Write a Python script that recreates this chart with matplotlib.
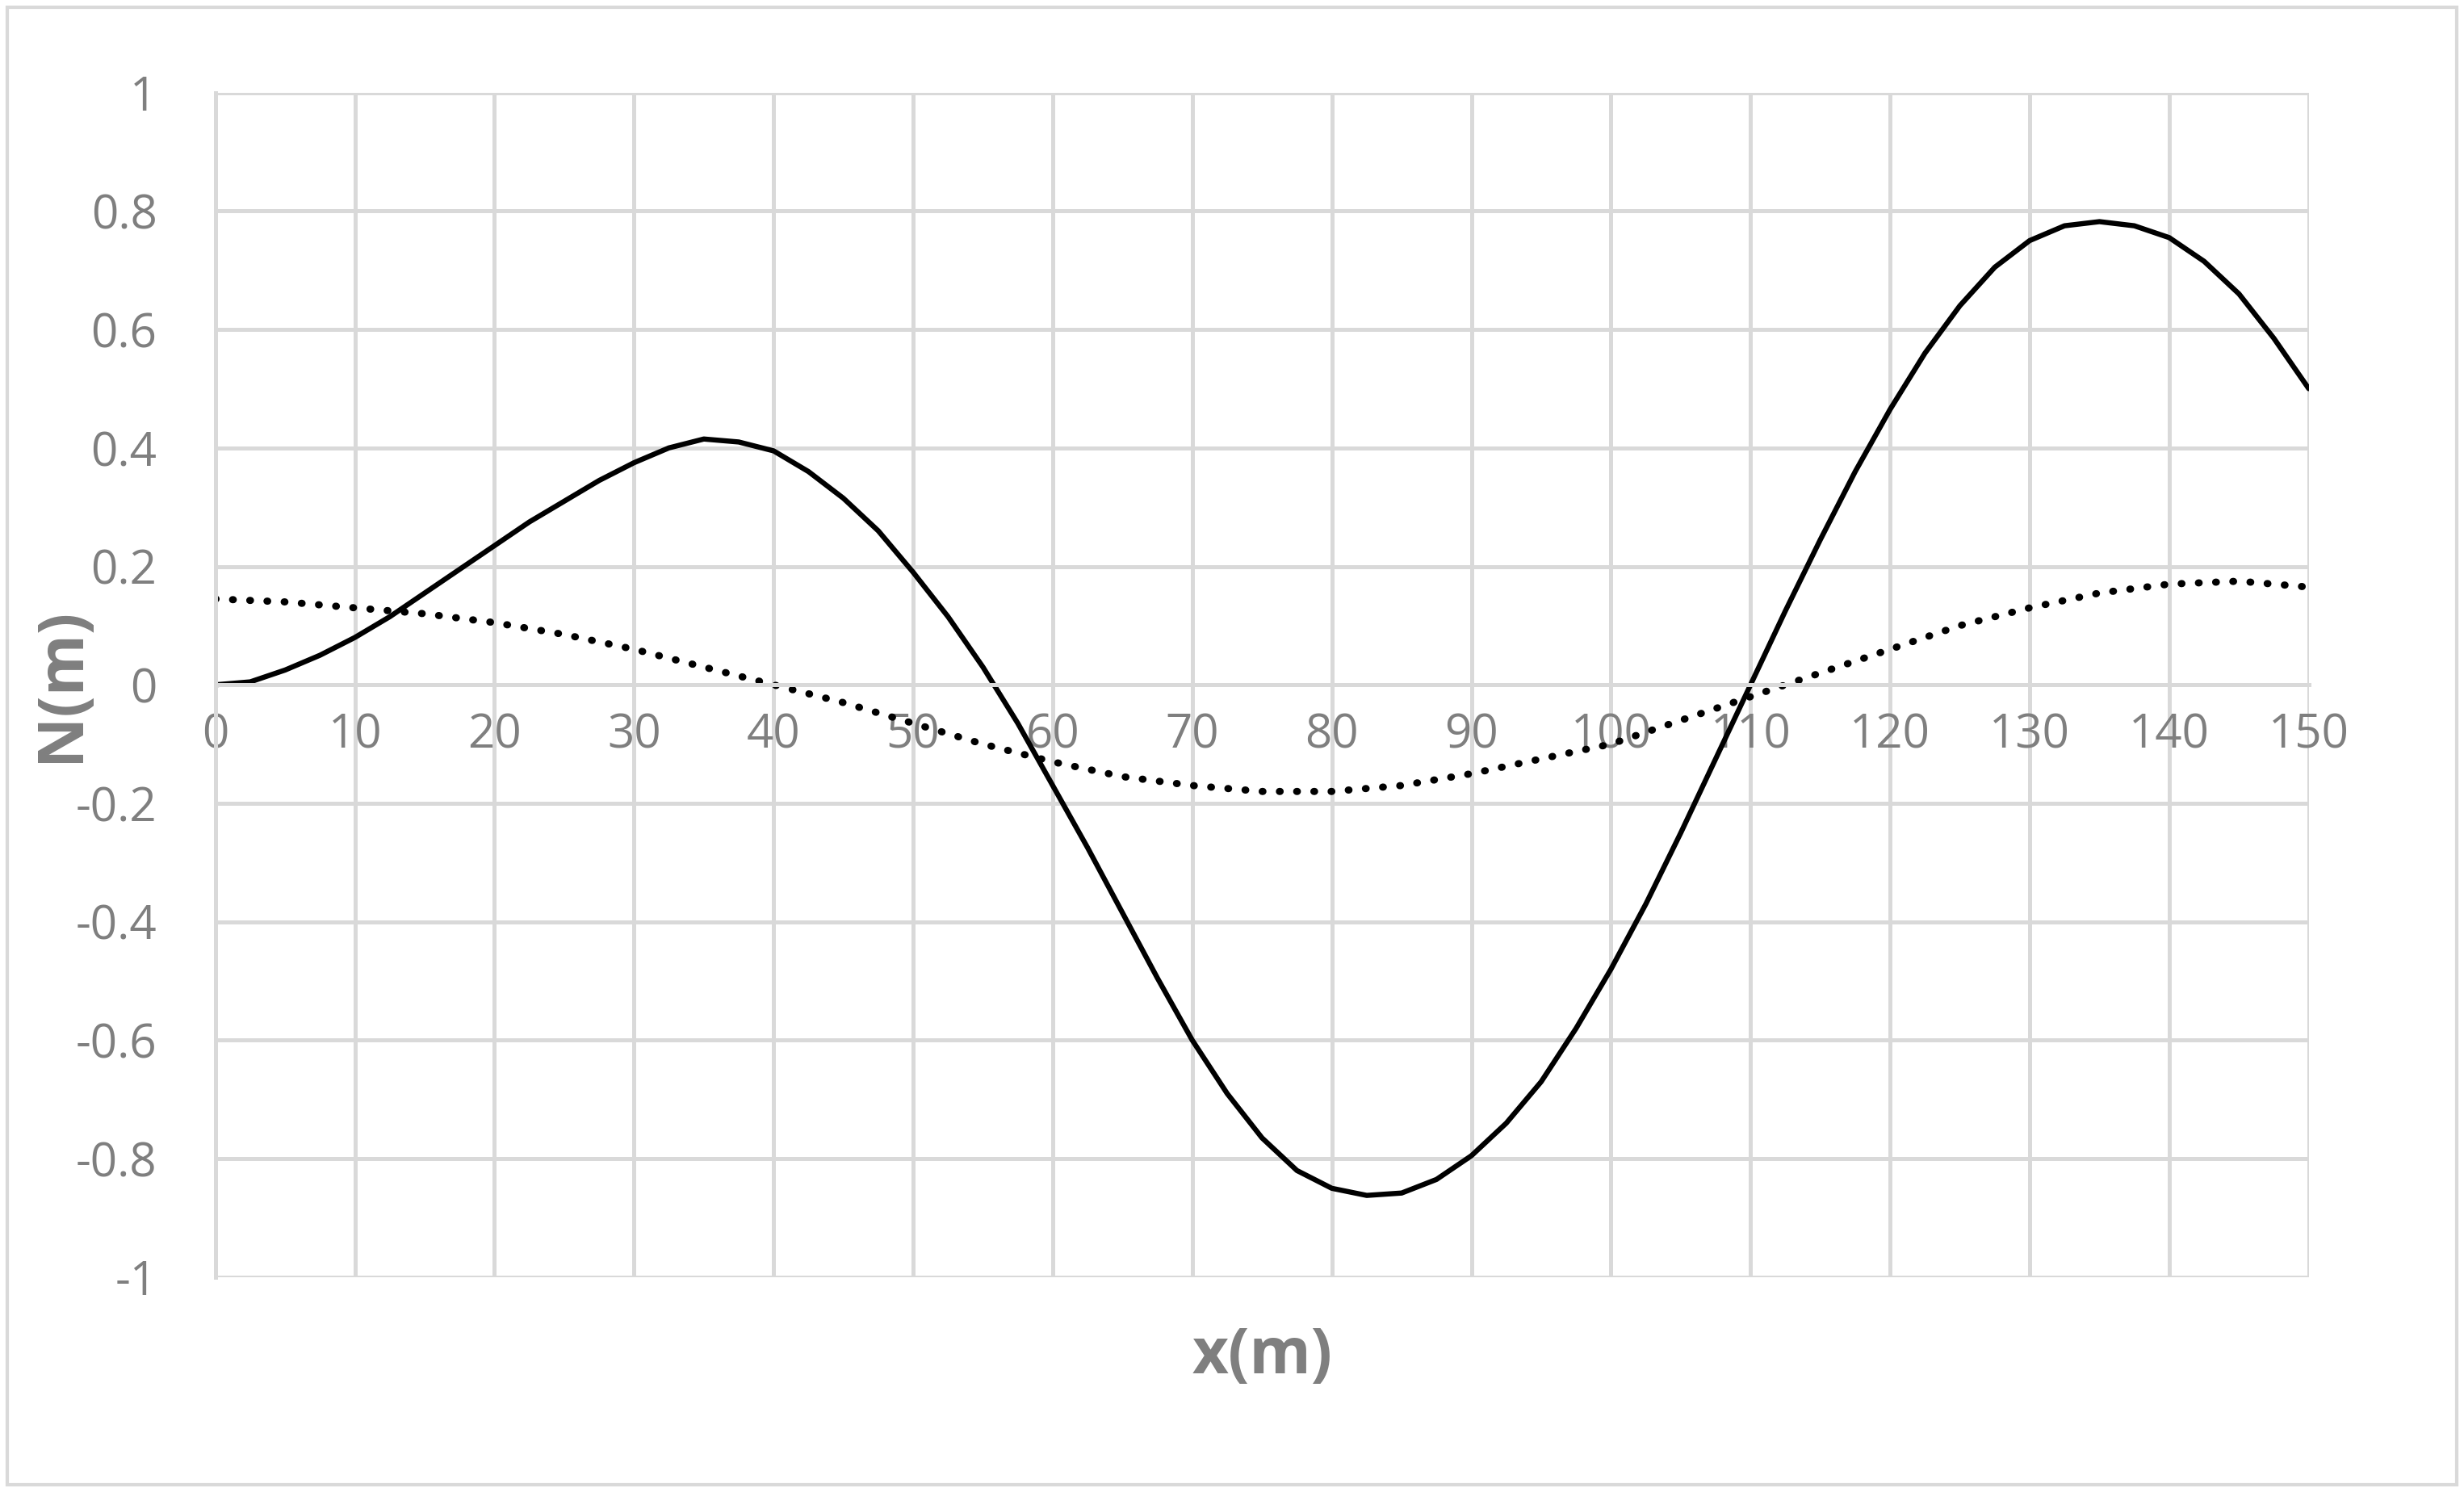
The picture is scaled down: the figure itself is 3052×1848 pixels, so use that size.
import matplotlib.pyplot as plt
from matplotlib.patches import Rectangle

x_solid = [0, 2.5, 5, 7.5, 10, 12.5, 15, 17.5, 20, 22.5, 25, 27.5, 30, 32.5, 35, 37.5,
           40, 42.5, 45, 47.5, 50, 52.5, 55, 57.5, 60, 62.5, 65, 67.5, 70, 72.5, 75,
           77.5, 80, 82.5, 85, 87.5, 90, 92.5, 95, 97.5, 100, 102.5, 105, 107.5, 110,
           112.5, 115, 117.5, 120, 122.5, 125, 127.5, 130, 132.5, 135, 137.5, 140,
           142.5, 145, 147.5, 150]
n_solid = [0.0, 0.005, 0.025, 0.05, 0.08, 0.115, 0.155, 0.195, 0.235, 0.275, 0.31,
           0.345, 0.375, 0.4, 0.415, 0.41, 0.395, 0.36, 0.315, 0.26, 0.19, 0.115, 0.03,
           -0.065, -0.17, -0.275, -0.385, -0.495, -0.6, -0.69, -0.765, -0.82, -0.85,
           -0.862, -0.858, -0.835, -0.795, -0.74, -0.67, -0.58, -0.48, -0.37, -0.25,
           -0.125, 0.0, 0.125, 0.245, 0.36, 0.465, 0.56, 0.64, 0.705, 0.75, 0.775,
           0.782, 0.775, 0.755, 0.715, 0.66, 0.585, 0.5]
x_dotted = [0, 5, 10, 15, 20, 25, 30, 35, 40, 45, 50, 55, 60, 65, 70, 75, 80, 85, 90, 95,
            100, 105, 110, 115, 120, 125, 130, 135, 140, 145, 150]
n_dotted = [0.145, 0.14, 0.13, 0.12, 0.105, 0.085, 0.06, 0.03, 0.0, -0.03, -0.065,
            -0.1, -0.13, -0.155, -0.17, -0.18, -0.18, -0.17, -0.15, -0.125, -0.1,
            -0.06, -0.02, 0.02, 0.06, 0.1, 0.13, 0.155, 0.17, 0.175, 0.165]
xticks = list(range(0, 151, 10))
yticks = [-1, -0.8, -0.6, -0.4, -0.2, 0, 0.2, 0.4, 0.6, 0.8, 1]

plt.rcParams["font.family"] = ["Open Sans", "DejaVu Sans"]
grey = "#7f7f7f"
grid = "#d9d9d9"

fig = plt.figure(figsize=(15.26, 9.24), dpi=200)
fig.patches.append(Rectangle((0.003, 0.005), 0.994, 0.99, transform=fig.transFigure,
                             fill=False, edgecolor=grid, linewidth=1.5))
ax = fig.add_axes([0.0874, 0.144, 0.8496, 0.794])

ax.plot(x_solid, n_solid, color="black", linewidth=2.3, solid_capstyle="round",
        solid_joinstyle="round")
ax.plot(x_dotted, n_dotted, color="black", linewidth=3.2, linestyle=(0, (0.1, 2.3)),
        dash_capstyle="round")

ax.set_xlim(0, 150)
ax.set_ylim(-1, 1)
ax.set_xticks(xticks)
ax.set_yticks(yticks)
ax.set_yticklabels([f"{v:g}" for v in yticks])
ax.grid(color=grid, linewidth=1.8)
ax.set_axisbelow(True)

for s in ["top", "right"]:
    ax.spines[s].set_visible(False)
ax.spines["bottom"].set_position(("data", 0))
ax.spines["bottom"].set_color(grid)
ax.spines["bottom"].set_linewidth(1.8)
ax.spines["left"].set_color(grid)
ax.spines["left"].set_linewidth(1.8)
ax.tick_params(length=0, labelsize=21, labelcolor=grey)
ax.tick_params(axis="x", pad=12)
ax.tick_params(axis="y", pad=26)

ax.set_xlabel("x(m)", fontsize=28, fontweight="bold", color=grey)
ax.xaxis.set_label_coords(0.5, -0.04)
ax.set_ylabel("N(m)", fontsize=28, fontweight="bold", color=grey)
ax.yaxis.set_label_coords(-0.058, 0.5)

fig.savefig("out.png", dpi=200)
